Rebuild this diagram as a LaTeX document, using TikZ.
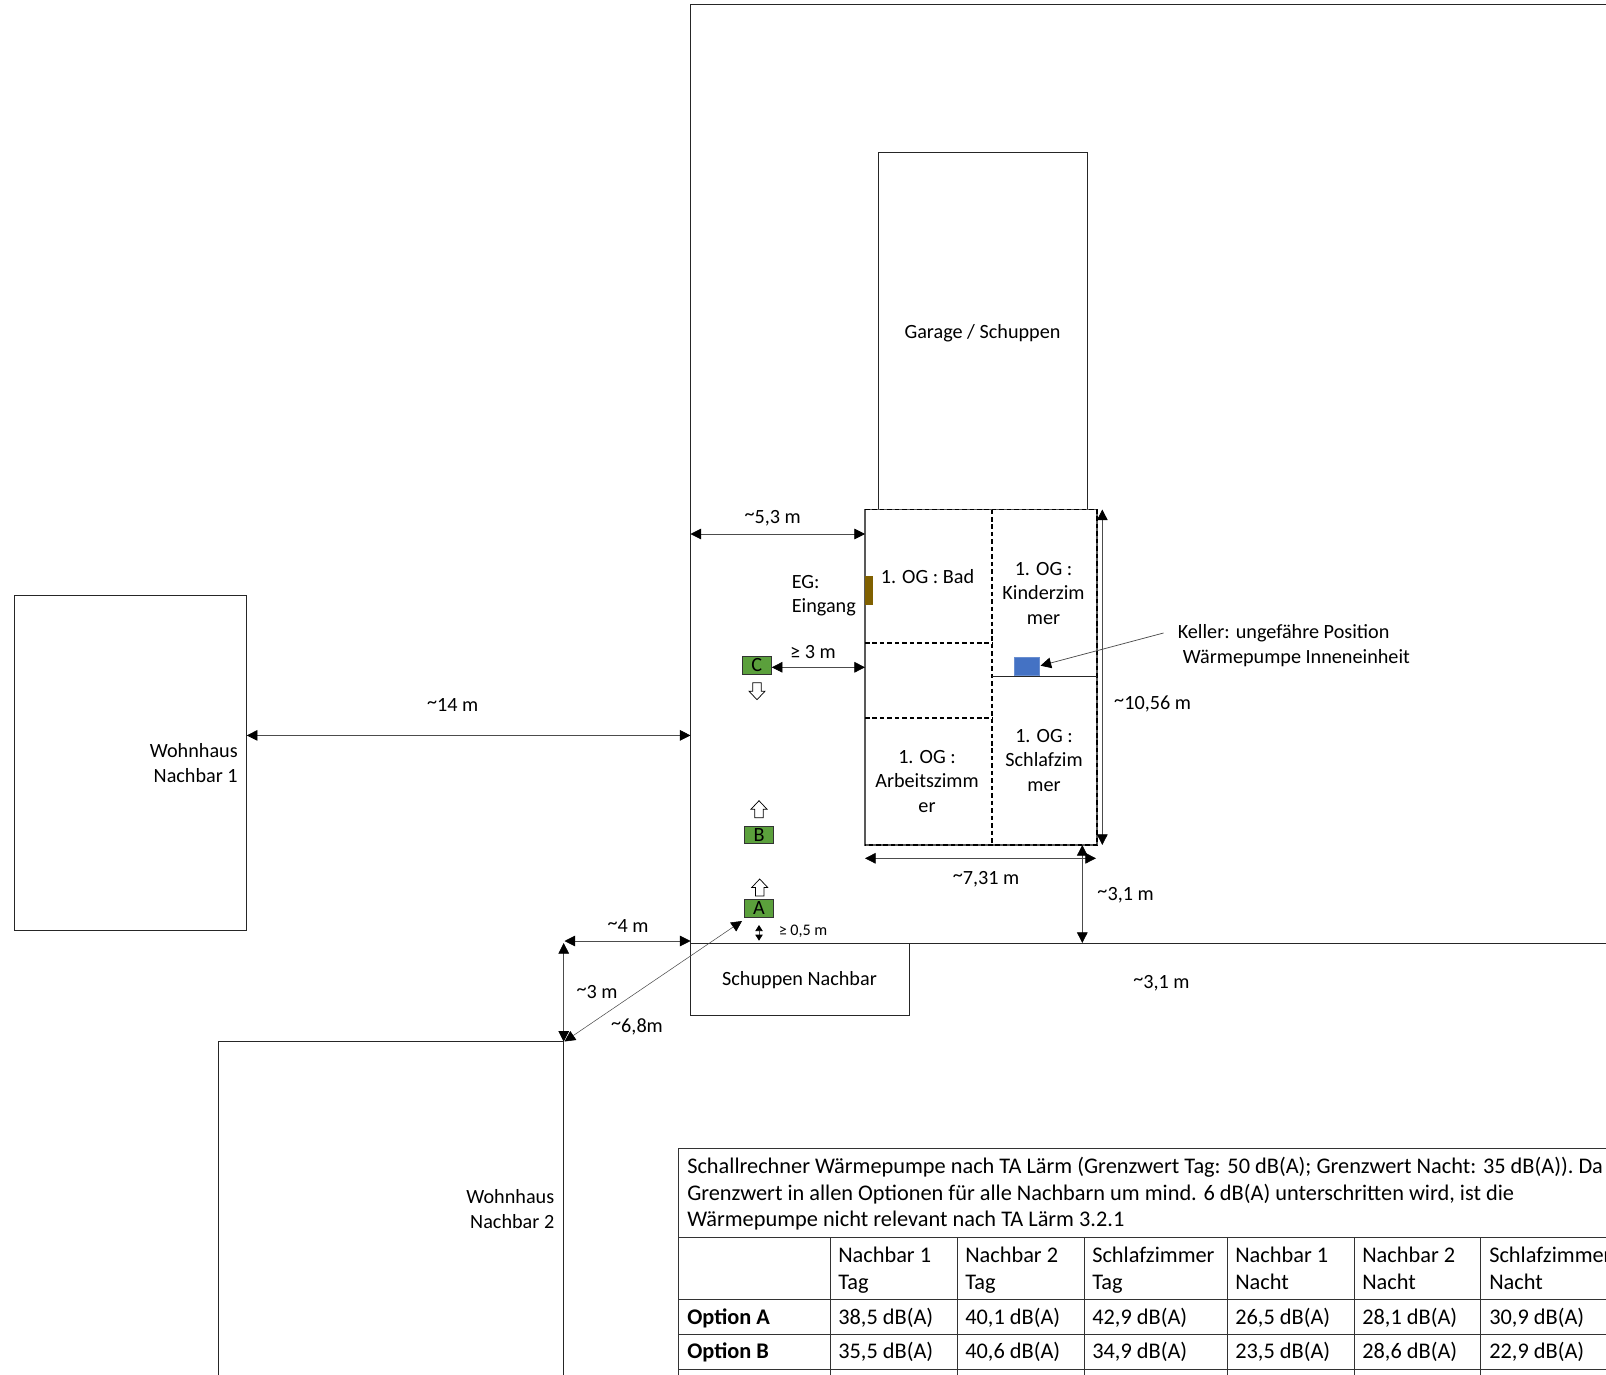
\documentclass[tikz,border=0pt]{standalone}
\usepackage{fontspec}
\setmainfont{Carlito}
\usetikzlibrary{arrows.meta}
\definecolor{pumpgreen}{RGB}{91,160,60}
\definecolor{pumpblue}{RGB}{68,114,196}
\definecolor{doorbrown}{RGB}{128,96,0}
\newcommand{\circa}{\raisebox{.3ex}{\textasciitilde}}
\tikzset{
  plan/.style={draw=black!85,line width=0.7pt},
  outline/.style={draw=black!65,line width=0.8pt},
  dimline/.style={draw=black!70,line width=0.55pt,{Triangle[length=8pt,width=8pt,black]}-{Triangle[length=8pt,width=8pt,black]}},
  dimsmall/.style={draw=black!70,line width=0.55pt,{Triangle[length=4.5pt,width=5.5pt,black]}-{Triangle[length=4.5pt,width=5.5pt,black]}},
  room/.style={draw=black,line width=0.8pt,dash pattern={on 3.4pt off 2.2pt}},
  txt/.style={inner sep=0.75pt,align=center,font=\fontsize{15.15}{18.4}\selectfont},
  cell/.style={inner sep=0pt,anchor=base west,font=\fontsize{16.75}{20}\selectfont},
  pump/.style={draw=black!80,fill=pumpgreen,line width=0.6pt,inner sep=0pt,minimum width=22pt,minimum height=13.2pt,font=\fontsize{15.15}{18}\selectfont},
  grid/.style={draw=black!80,line width=0.6pt},
  hollow/.style={draw=black,fill=white,line width=0.55pt}
}
\begin{document}
\begin{tikzpicture}[x=0.75pt,y=0.75pt,yscale=-1,xscale=1]
  \useasboundingbox (0,0) rectangle (1606,1374.5);

  %End points of the plan
  \coordinate (plotNW) at (690.5,4.5);
  \coordinate (plotNE) at (1606,4.5);
  \coordinate (plotSW) at (690.5,943);
  \coordinate (plotSE) at (1606,943);
  \coordinate (shedNE) at (909.5,943);
  \coordinate (shedSW) at (690.5,1015.5);
  \coordinate (houseNW) at (865,509.5);
  \coordinate (houseSE) at (1097,845);
  \coordinate (hall) at (992,676);
  \coordinate (corner) at (563.7,1041.7);
  \coordinate (cornerBottom) at (563.7,1375);
  \coordinate (cornerLeft) at (218,1041.7);
  \coordinate (cornerLeftBottom) at (218,1375);

  %Plot, sheds and houses
  \draw [plan] (plotSW) -- (plotNW) -- (plotNE);
  \draw [plan] (plotSW) -- (plotSE);
  \draw [plan] (plotSW) -- (shedSW) -- (shedSW -| shedNE) -- (shedNE);
  \draw [plan] (14,595) rectangle (246.8,930.5);
  \draw [plan] (878.7,509.5) -- (878.7,152.6) -- (1087.7,152.6) -- (1087.7,509.5);
  \draw [plan] (cornerLeftBottom) -- (cornerLeft) -- (corner) -- (cornerBottom);

  %House and rooms
  \draw [outline] (houseNW) rectangle (houseSE);
  \draw [room] (houseNW) -- (houseNW -| houseSE) -- (houseSE) -- (houseSE -| houseNW);
  \draw [room] (992,509.5) -- (992,845);
  \draw [room] (865,643) -- (992,643);
  \draw [room] (865,718) -- (992,718);
  \draw [plan] (hall) -- (hall -| houseSE);

  %Shapes: door and indoor unit
  \draw [draw=doorbrown,fill=doorbrown] (865.5,576) rectangle (872,604.7);
  \draw [draw=pumpblue!80,fill=pumpblue] (1014,657.7) rectangle (1039.7,675.5);

  %Outdoor positions
  \draw (756.7,665.5) node (pumpC) [pump] {C};
  \draw (759,834.8) node (pumpB) [pump] {B};
  \draw (759,908.5) node (pumpA) [pump] {A};

  %Block arrows
  \draw [hollow,shift={(759,800.7)}] (0,0) -- (8,8.5) -- (4.3,8.5) -- (4.3,17) -- (-4.3,17) -- (-4.3,8.5) -- (-8,8.5) -- cycle;
  \draw [hollow,shift={(759.7,879)}] (0,0) -- (8,8.5) -- (4.3,8.5) -- (4.3,17) -- (-4.3,17) -- (-4.3,8.5) -- (-8,8.5) -- cycle;
  \draw [hollow,shift={(757,699.7)},yscale=-1] (0,0) -- (8,8.5) -- (4.3,8.5) -- (4.3,17) -- (-4.3,17) -- (-4.3,8.5) -- (-8,8.5) -- cycle;

  %Dimension lines
  \coordinate (d53a) at (690.5,534);
  \coordinate (d53b) at (865,534);
  \coordinate (d3b) at (865,667.3);
  \coordinate (d1056a) at (1102.3,509.5);
  \coordinate (d1056b) at (1102.3,845);
  \coordinate (d731a) at (865,858.3);
  \coordinate (d731b) at (1096,858.3);
  \coordinate (d31a) at (1082.3,845);
  \coordinate (d31b) at (1082.3,943);
  \coordinate (d05a) at (759,925);
  \coordinate (d05b) at (759,940.7);
  \coordinate (d14a) at (246.8,735.4);
  \coordinate (d14b) at (690.5,735.4);
  \coordinate (d4a) at (564.5,941);
  \coordinate (d4b) at (690.5,941);
  \coordinate (d3a) at (563.7,943);
  \coordinate (d68a) at (564.5,1041.5);
  \coordinate (d68b) at (742,921);
  \coordinate (kellerStart) at (1163.5,633);
  \coordinate (kellerEnd) at (1040.5,665.7);

  \draw [dimline] (d53a) -- (d53b);
  \draw [dimline] (pumpC.east |- d3b) -- (d3b);
  \draw [dimline] (d1056a) -- (d1056b);
  \draw [dimline] (d731a) -- (d731b);
  \draw [dimline] (d31a) -- (d31b);
  \draw [dimsmall] (d05a) -- (d05b);
  \draw [dimline] (d14a) -- (d14b);
  \draw [dimline] (d4a) -- (d4b);
  \draw [dimline] (d3a) -- (corner);
  \draw [dimline,line width=0.4pt] (d68a) -- (d68b);
  \draw [draw=black!70,line width=0.55pt,-{Triangle[length=8pt,width=8pt,black]}] (kellerStart) -- (kellerEnd);

  % Text Node
  \draw (982.5,333) node (garage) [txt] {Garage / Schuppen};
  % Text Node
  \draw (772.7,518) node (t53) [txt] {\circa 5,3 m};
  % Text Node
  \draw (927.5,576.5) node (bad) [txt] {1. OG : Bad};
  % Text Node
  \draw (1043.5,593.5) node (kinder) [txt] {1. OG :\\Kinderzim\\mer};
  % Text Node
  \draw (790.5,595.5) node (eingang) [txt,anchor=west,align=left] {EG:\\Eingang};
  % Text Node
  \draw (813,652) node (t3) [txt] {≥ 3 m};
  % Text Node
  \draw (1044,760.5) node (schlaf) [txt] {1. OG :\\Schlafzim\\mer};
  % Text Node
  \draw (927,781.5) node (arbeit) [txt] {1. OG :\\Arbeitszimm\\er};
  % Text Node
  \draw (986,879) node (t731) [txt] {\circa 7,31 m};
  % Text Node
  \draw (1125.6,895) node (t31a) [txt] {\circa 3,1 m};
  % Text Node
  \draw (1152.6,704) node (t1056) [txt] {\circa 10,56 m};
  % Text Node
  \draw (452.7,705) node (t14) [txt] {\circa 14 m};
  % Text Node
  \draw (239,763) node (nachbarA) [txt,anchor=east,align=right] {Wohnhaus\\Nachbar 1};
  % Text Node
  \draw (555.5,1209.3) node (nachbarB) [txt,anchor=east,align=right] {Wohnhaus\\Nachbar 2};
  % Text Node
  \draw (628,926) node (t4) [txt] {\circa 4 m};
  % Text Node
  \draw (597,992) node (t3m) [txt] {\circa 3 m};
  % Text Node
  \draw (637,1027) node (t68) [txt] {\circa 6,8m};
  % Text Node
  \draw (799.5,980) node (schuppen) [txt] {Schuppen Nachbar};
  % Text Node
  \draw (1161.4,983) node (t31b) [txt] {\circa 3,1 m};
  % Text Node
  \draw (777.5,931.5) node (t05) [txt,anchor=west,font=\fontsize{12.1}{14}\selectfont] {≥ 0,5 m};
  % Text Node
  \draw (1176.5,645.5) node (keller) [txt,anchor=west,align=left] {Keller: ungefähre Position\\\hspace*{3.8pt}Wärmepumpe Inneneinheit};

  %Table lines
  \draw [grid] (1606,1148.5) -- (678,1148.5) -- (678,1375);
  \draw [grid] (678,1237.7) -- (1606,1237.7);
  \draw [grid] (678,1299.3) -- (1606,1299.3);
  \draw [grid] (678,1334.3) -- (1606,1334.3);
  \draw [grid] (678,1369.3) -- (1606,1369.3);
  \draw [grid] (830,1237.7) -- (830,1375);
  \draw [grid] (957.5,1237.7) -- (957.5,1375);
  \draw [grid] (1084,1237.7) -- (1084,1375);
  \draw [grid] (1227.3,1237.7) -- (1227.3,1375);
  \draw [grid] (1354,1237.7) -- (1354,1375);
  \draw [grid] (1480.7,1237.7) -- (1480.7,1375);

  % Table text
  \draw (687,1173.5) node (capA) [cell] {Schallrechner Wärmepumpe nach TA Lärm (Grenzwert Tag: 50 dB(A); Grenzwert Nacht: 35 dB(A)). Da};
  \draw (687,1200.5) node (capB) [cell] {Grenzwert in allen Optionen für alle Nachbarn um mind. 6 dB(A) unterschritten wird, ist die};
  \draw (687,1226.5) node (capC) [cell] {Wärmepumpe nicht relevant nach TA Lärm 3.2.1};

  \draw (838,1262) node (headAa) [cell] {Nachbar 1};
  \draw (838,1289.5) node (headAb) [cell] {Tag};
  \draw (965,1262) node (headBa) [cell] {Nachbar 2};
  \draw (965,1289.5) node (headBb) [cell] {Tag};
  \draw (1092,1262) node (headCa) [cell] {Schlafzimmer};
  \draw (1092,1289.5) node (headCb) [cell] {Tag};
  \draw (1235,1262) node (headDa) [cell] {Nachbar 1};
  \draw (1235,1289.5) node (headDb) [cell] {Nacht};
  \draw (1362,1262) node (headEa) [cell] {Nachbar 2};
  \draw (1362,1289.5) node (headEb) [cell] {Nacht};
  \draw (1489,1262) node (headFa) [cell] {Schlafzimmer};
  \draw (1489,1289.5) node (headFb) [cell] {Nacht};

  \draw (687,1324) node (optA) [cell] {\textbf{Option A}};
  \draw (838,1324) node (optAa) [cell] {38,5 dB(A)};
  \draw (965,1324) node (optAb) [cell] {40,1 dB(A)};
  \draw (1092,1324) node (optAc) [cell] {42,9 dB(A)};
  \draw (1235,1324) node (optAd) [cell] {26,5 dB(A)};
  \draw (1362,1324) node (optAe) [cell] {28,1 dB(A)};
  \draw (1489,1324) node (optAf) [cell] {30,9 dB(A)};

  \draw (687,1358.5) node (optB) [cell] {\textbf{Option B}};
  \draw (838,1358.5) node (optBa) [cell] {35,5 dB(A)};
  \draw (965,1358.5) node (optBb) [cell] {40,6 dB(A)};
  \draw (1092,1358.5) node (optBc) [cell] {34,9 dB(A)};
  \draw (1235,1358.5) node (optBd) [cell] {23,5 dB(A)};
  \draw (1362,1358.5) node (optBe) [cell] {28,6 dB(A)};
  \draw (1489,1358.5) node (optBf) [cell] {22,9 dB(A)};

\end{tikzpicture}
\end{document}
